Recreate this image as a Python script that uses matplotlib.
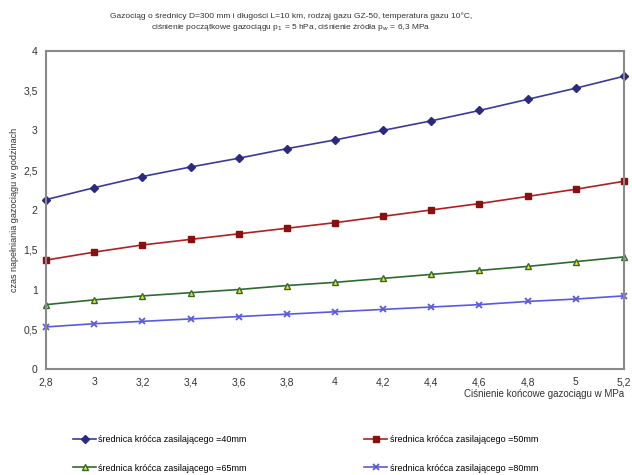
import matplotlib.pyplot as plt
from matplotlib.ticker import FuncFormatter

plt.rcParams['font.family'] = ['Liberation Sans', 'DejaVu Sans']

pressure = [2.8, 3.0, 3.2, 3.4, 3.6, 3.8, 4.0, 4.2, 4.4, 4.6, 4.8, 5.0, 5.2]
d40 = [2.13, 2.28, 2.42, 2.54, 2.65, 2.77, 2.88, 3.00, 3.12, 3.25, 3.39, 3.53, 3.68]
d50 = [1.37, 1.47, 1.56, 1.63, 1.70, 1.77, 1.84, 1.92, 2.00, 2.08, 2.17, 2.26, 2.36]
d65 = [0.81, 0.87, 0.92, 0.96, 1.00, 1.05, 1.09, 1.14, 1.19, 1.24, 1.29, 1.35, 1.41]
d80 = [0.53, 0.57, 0.60, 0.63, 0.66, 0.69, 0.72, 0.75, 0.78, 0.81, 0.85, 0.88, 0.92]
labels = ['średnica króćca zasilającego =40mm', 'średnica króćca zasilającego =50mm',
          'średnica króćca zasilającego =65mm', 'średnica króćca zasilającego =80mm']

fig = plt.figure(figsize=(6.32, 4.75), dpi=100)
ax = fig.add_axes([0.073, 0.223, 0.914, 0.670])

l1, = ax.plot(pressure, d40, color='#3a3a9e', lw=1.2, marker='D', ms=4.5, mfc='#2a2a80', mec='#2a2a80', clip_on=False)
l2, = ax.plot(pressure, d50, color='#b02020', lw=1.2, marker='s', ms=5, mfc='#8a1010', mec='#8a1010', clip_on=False)
l3, = ax.plot(pressure, d65, color='#2f6a30', lw=1.2, marker='^', ms=5, mfc='#f0e020', mec='#2f6a30', clip_on=False)
l4, = ax.plot(pressure, d80, color='#5a5ae0', lw=1.2, marker='x', ms=5, mew=1.3, clip_on=False)

ax.set_xlim(2.8, 5.2)
ax.set_ylim(0, 4)
ax.set_xticks(pressure)
ax.set_yticks([0, 0.5, 1, 1.5, 2, 2.5, 3, 3.5, 4])
fmt = FuncFormatter(lambda v, p: ('%g' % v).replace('.', ','))
ax.xaxis.set_major_formatter(fmt)
ax.yaxis.set_major_formatter(fmt)
ax.tick_params(length=0, labelsize=7.5, pad=6, colors='#333333')
for s in ax.spines.values():
    s.set_color('#8a8a8a')
    s.set_linewidth(1.5)

ax.set_ylabel('czas napełniania gazociągu w godzinach', fontsize=6.5, color='#333333', labelpad=3)
ax.set_xlabel('Ciśnienie końcowe gazociągu w MPa', fontsize=7, color='#333333', loc='right', labelpad=1)

fig.text(0.46, 0.975, 'Gazociąg o średnicy D=300 mm i długości L=10 km, rodzaj gazu GZ-50, temperatura gazu 10°C,\n'
         'ciśnienie początkowe gazociągu p$_1$ = 5 hPa, ciśnienie źródła p$_w$ = 6,3 MPa',
         ha='center', va='top', fontsize=6, color='#333333', linespacing=1.3)

fig.legend([l1, l3, l2, l4], [labels[0], labels[2], labels[1], labels[3]], ncol=2,
           loc='lower left', bbox_to_anchor=(0.103, -0.012),
           frameon=False, fontsize=6.5, columnspacing=13.0, handlelength=2.5, labelspacing=2.2,
           handletextpad=0.3)

fig.savefig('out.png', dpi=100)
